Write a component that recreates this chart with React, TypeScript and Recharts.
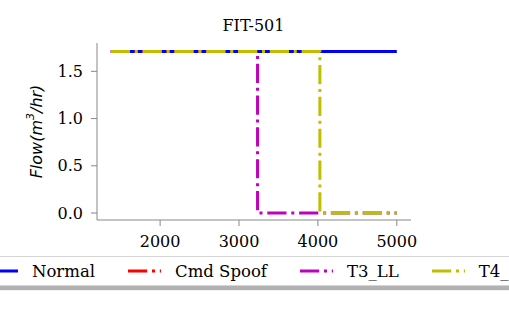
import { LineChart, Line, XAxis, YAxis } from "recharts";

// series (x = sample index, y = flow in m3/hr)
const normalX = [1375, 5000];
const normalY = [1.71, 1.71];
const spoofX = [1375, 3235];
const spoofY = [1.71, 1.71];
const t3X = [1375, 3235, 3235, 5000];
const t3Y = [1.71, 1.71, 0, 0];
const t4X = [1375, 4025, 4025, 5000];
const t4Y = [1.71, 1.71, 0, 0];

const seriesNames = ["Normal", "Cmd Spoof", "T3_LL", "T4_LL"];
const xTicks = [2000, 3000, 4000, 5000];
const yTicks = [0, 0.5, 1.0, 1.5];

const zip = (xs: number[], ys: number[]) => xs.map((x, i) => ({ x, y: ys[i] }));

const SERIES = [
  { name: seriesNames[0], data: zip(normalX, normalY), color: "#0000ff", dash: undefined },
  { name: seriesNames[1], data: zip(spoofX, spoofY), color: "#ff0000", dash: "19.2 4.8 3 4.8" },
  { name: seriesNames[2], data: zip(t3X, t3Y), color: "#bf00bf", dash: "19.2 4.8 3 4.8" },
  { name: seriesNames[3], data: zip(t4X, t4Y), color: "#bfbf00", dash: "19.2 4.8 3 4.8" },
];

const AXIS = "#888888";
const SERIF = "'DejaVu Serif', serif";

function YLabel() {
  return (
    <text
      x={36} y={131.5} transform="rotate(-90 36 131.5)" textAnchor="middle" dominantBaseline="central"
      fontFamily="'DejaVu Sans', sans-serif" fontStyle="italic" fontSize={16} fill="#000"
    >
      Flow(m<tspan dy={-6} fontSize={11}>3</tspan><tspan dy={6}>/hr)</tspan>
    </text>
  );
}

function LegendRow() {
  return (
    <div style={{
      position: "absolute", left: -40, top: 256, width: 620, height: 30,
      background: "#fff", border: "1px solid #d4d4d4", boxSizing: "border-box",
      boxShadow: "0 4px 1px rgba(0,0,0,0.3)",
    }}>
      <div style={{ position: "absolute", left: 24, top: 0, height: 28, display: "flex", alignItems: "center", whiteSpace: "nowrap" }}>
        {SERIES.map(s => (
          <div key={s.name} style={{ display: "flex", alignItems: "center", marginRight: 33 }}>
            <svg width={33} height={6} style={{ marginRight: 14 }}>
              <line x1={0} y1={3} x2={33} y2={3} stroke={s.color} strokeWidth={3} strokeDasharray={s.dash} />
            </svg>
            <span style={{ fontFamily: SERIF, fontSize: 16.5, color: "#000" }}>{s.name}</span>
          </div>
        ))}
      </div>
    </div>
  );
}

export default function App() {
  return (
    <div style={{ position: "absolute", left: 0, top: 0, width: 509, height: 315, overflow: "hidden", background: "#fff" }}>
      <LineChart width={509} height={315} margin={{ top: 43, right: 98, bottom: 65, left: 37 }}>
        <XAxis
          type="number" dataKey="x" domain={[1200, 5180]} ticks={xTicks} allowDataOverflow
          stroke={AXIS} tickSize={6} tickMargin={10} height={30}
          tick={{ fontSize: 16, fontFamily: SERIF, fill: "#000" }}
        />
        <YAxis
          type="number" dataKey="y" domain={[-0.074, 1.8]} ticks={yTicks} allowDataOverflow
          stroke={AXIS} tickSize={6} tickMargin={8} width={60}
          tickFormatter={(v: number) => v.toFixed(1)}
          tick={{ fontSize: 16, fontFamily: SERIF, fill: "#000" }}
          label={<YLabel />}
        />
        {SERIES.map(s => (
          <Line
            key={s.name} data={s.data} dataKey="y" name={s.name} type="linear"
            stroke={s.color} strokeWidth={3} strokeDasharray={s.dash}
            dot={false} activeDot={false} isAnimationActive={false}
          />
        ))}
      </LineChart>
      <svg width={509} height={40} style={{ position: "absolute", left: 0, top: 0 }}>
        <text x={253.5} y={31} textAnchor="middle" fontFamily={SERIF} fontSize={16} fill="#000">FIT-501</text>
      </svg>
      <LegendRow />
    </div>
  );
}
